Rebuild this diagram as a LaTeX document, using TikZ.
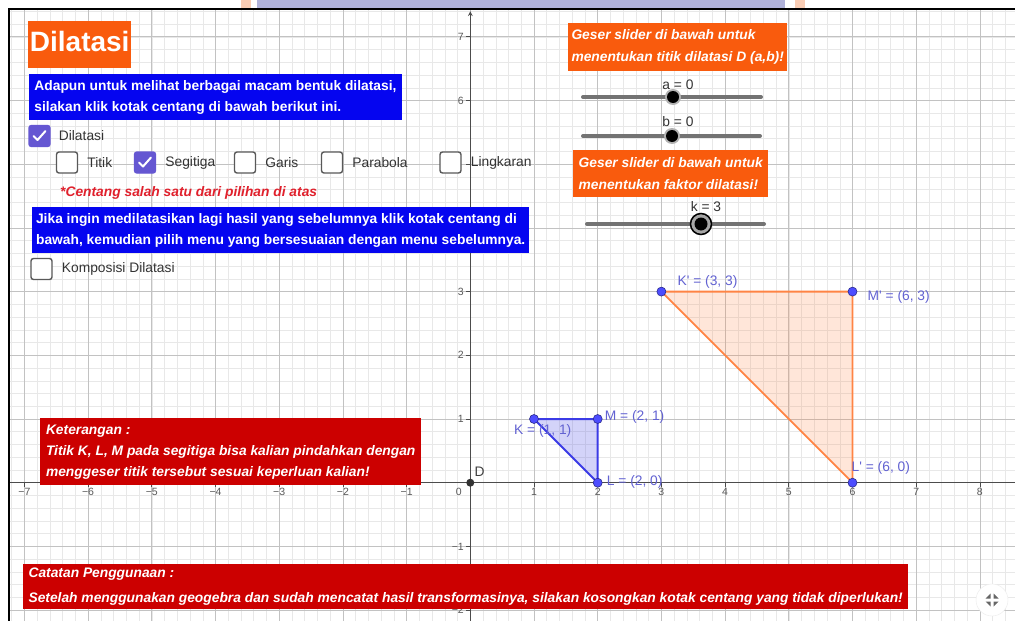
\documentclass[tikz,border=0pt]{standalone}
\usepackage{fontspec}
\setmainfont{Liberation Sans}
\usepackage{xcolor}
\usetikzlibrary{positioning, calc}

\definecolor{ggblue}{HTML}{0505F0}
\definecolor{ggred}{HTML}{CC0000}
\definecolor{ggorange}{HTML}{F95B0D}
\definecolor{ggpurple}{HTML}{6557D2}
\definecolor{ggnote}{HTML}{E0202C}
\definecolor{ggpoint}{HTML}{4D4DFF}
\definecolor{gglabel}{HTML}{6262D2}
\definecolor{ggtri}{HTML}{3B3BE6}
\definecolor{ggedge}{HTML}{FF8444}
\definecolor{lavender}{HTML}{B0B2DA}
\definecolor{peach}{HTML}{F9CDB5}

\def\fs{13.8}

\tikzset{
  panel/.style={anchor=north west, inner xsep=3pt, inner ysep=0pt, align=left, text=white,
    font=\fontsize{\fs}{21}\selectfont\bfseries},
  bluebox/.style={panel, fill=ggblue},
  redbox/.style={panel, fill=ggred, font=\fontsize{\fs}{21}\selectfont\bfseries\itshape},
  orangebox/.style={panel, fill=ggorange, font=\fontsize{\fs}{22}\selectfont\bfseries\itshape},
  cbox/.style={draw=black!65, line width=1.4pt, fill=white, rounded corners=2.5pt,
    minimum size=21pt, inner sep=0pt},
  cboxon/.style={cbox, draw=ggpurple, fill=ggpurple},
  cblabel/.style={inner sep=0pt, font=\fontsize{\fs}{16}\selectfont, text=black!80},
  tick/.style={inner sep=0pt, font=\fontsize{10.5}{13}\selectfont, text=black!65},
  minorgrid/.style={black!9, line width=0.5pt},
  majorgrid/.style={black!24, line width=0.8pt},
  axis/.style={black!70, line width=1.1pt},
  ptdot/.style={circle, fill=ggpoint, draw=ggpoint!55!black, line width=0.6pt,
    minimum size=9pt, inner sep=0pt},
  ptlabel/.style={inner sep=0pt, anchor=west, font=\fontsize{\fs}{16}\selectfont, text=gglabel},
  track/.style={black!55, line width=4pt, line cap=round},
  knob/.style={circle, fill=black, minimum size=12pt, inner sep=0pt},
  checkmark/.pic={\draw[white, line width=2pt, line cap=round, line join=round]
    (-6,0) -- (-2,4) -- (6,-5);}
}

\begin{document}
\begin{tikzpicture}[x=1pt, y=-1pt]
	\useasboundingbox (0,0) rectangle (1015,621);
	\fill[white] (0,0) rectangle (1015,621);
	\fill[lavender] (257,0) rectangle (785,9);
	\fill[peach] (241,0) rectangle (251,9);
	\fill[peach] (795,0) rectangle (805,9);
	
	\begin{scope}
		\clip (9,10) rectangle (1015,621);
		\begin{scope}[shift={(470.3,482.7)}, x=63.7pt, y=63.7pt]
			\foreach \i in {-37,...,43}
				\draw[minorgrid] (\i/5,-2.3) -- (\i/5,7.5);
			\foreach \i in {-11,...,37}
				\draw[minorgrid] (-7.4,\i/5) -- (8.7,\i/5);
			\foreach \i in {-7,...,8}
				\draw[majorgrid] (\i,-2.3) -- (\i,7.5);
			\foreach \i in {-2,...,7}
				\draw[majorgrid] (-7.4,\i) -- (8.7,\i);
			
			\draw[axis, -stealth] (-7.4,0) -- (8.7,0);
			\draw[axis, -stealth] (0,-2.3) -- (0,7.4);
			\foreach \i in {-7,...,8}
				\draw[axis, line width=0.8pt] (\i,0) -- (\i,-0.06);
			\foreach \i in {-2,...,7}
				\draw[axis, line width=0.8pt] (0,\i) -- (-0.06,\i);
			
			\foreach \i in {1,...,8}
				\node[tick, anchor=north] (xpos\i) at (\i,-0.08) {\i};
			\foreach \i in {1,...,7}
				\node[tick, anchor=north] (xneg\i) at (-\i,-0.08) {−\i};
			\foreach \i in {1,2,3,6,7}
				\node[tick, anchor=east] (ypos\i) at (-0.1,\i) {\i};
			\foreach \i in {1,2}
				\node[tick, anchor=east] (yneg\i) at (-0.1,-\i) {−\i};
			\node[tick, anchor=north east] (zero) at (-0.13,-0.08) {0};
			
			\coordinate (K) at (1,1);
			\coordinate (L) at (2,0);
			\coordinate (M) at (2,1);
			\coordinate (Kp) at (3,3);
			\coordinate (Lp) at (6,0);
			\coordinate (Mp) at (6,3);
			
			\filldraw[draw=ggtri, line width=2pt, fill=ggtri, fill opacity=0.22, line join=round]
				(K) -- (L) -- (M) -- cycle;
			\filldraw[draw=ggedge, line width=1.8pt, fill=ggedge, fill opacity=0.2, line join=round]
				(Kp) -- (Lp) -- (Mp) -- cycle;
			
			\foreach \p in {K,L,M,Kp,Lp,Mp}
				\node[ptdot] (dot\p) at (\p) {};
			\node[circle, fill=black!80, minimum size=8pt, inner sep=0pt] (D) at (0,0) {};
			
			\node[ptlabel, text=black!75] (Dlab) at ([shift={(4pt,11pt)}]D.center) {D};
			\node[ptlabel] (Klab) at ([shift={(-20pt,-12pt)}]K) {K = (1, 1)};
			\node[ptlabel] (Mlab) at ([shift={(7pt,2pt)}]M) {M = (2, 1)};
			\node[ptlabel] (Llab) at ([shift={(9pt,1pt)}]L) {L = (2, 0)};
			\node[ptlabel] (Kplab) at ([shift={(16pt,10pt)}]Kp) {K\textquotesingle{} = (3, 3)};
			\node[ptlabel] (Mplab) at ([shift={(15pt,-5pt)}]Mp) {M\textquotesingle{} = (6, 3)};
			\node[ptlabel] (Lplab) at ([shift={(-1pt,15pt)}]Lp) {L\textquotesingle{} = (6, 0)};
		\end{scope}
	\end{scope}
	
	\draw[black, line width=2pt] (9,621) -- (9,9) -- (1015,9);
	
	\node[panel, fill=ggorange, minimum width=103pt, minimum height=47pt, inner xsep=0pt,
		align=center, text depth=6pt, font=\fontsize{28}{30}\selectfont\bfseries] (title) at (28,21) {Dilatasi};
	
	\node[bluebox, minimum width=373.5pt, minimum height=46pt] (intro) at (28.5,74)
		{Adapun untuk melihat berbagai macam bentuk dilatasi,\\silakan klik kotak centang di bawah berikut ini.};
	
	\node[cboxon] (dilatasi) at (39.5,136) {};
	\pic at (dilatasi.center) {checkmark};
	\node[cblabel, right=8pt of dilatasi] (dilatasilab) {Dilatasi};
	
	\node[cbox] (titik) at (67,162.5) {};
	\node[cblabel, right=9pt of titik] (titiklab) {Titik};
	\node[cboxon] (segitiga) at (145,162.5) {};
	\pic at (segitiga.center) {checkmark};
	\node[cblabel, right=9pt of segitiga] (segitigalab) {Segitiga};
	\node[cbox] (garis) at (245,162.5) {};
	\node[cblabel, right=9pt of garis] (garislab) {Garis};
	\node[cbox] (parabola) at (332,162.5) {};
	\node[cblabel, right=9pt of parabola] (parabolalab) {Parabola};
	\node[cbox] (lingkaran) at (450.5,162.5) {};
	\node[cblabel, right=9pt of lingkaran] (lingkaranlab) {Lingkaran};
	
	\node[anchor=base west, inner sep=0pt, text=ggnote, font=\fontsize{\fs}{16}\selectfont\bfseries\itshape]
		(hint) at (60,196) {*Centang salah satu dari pilihan di atas};
	
	\node[bluebox, minimum width=497pt, minimum height=46pt] (lagi) at (32,207)
		{Jika ingin medilatasikan lagi hasil yang sebelumnya klik kotak centang di\\bawah, kemudian pilih menu yang bersesuaian dengan menu sebelumnya.};
	
	\node[cbox] (komposisi) at (41.5,269) {};
	\node[cblabel, right=9pt of komposisi] (komposisilab) {Komposisi Dilatasi};
	
	\node[orangebox, minimum width=219pt, minimum height=48pt] (gesertitik) at (568,23)
		{Geser slider di bawah untuk\\menentukan titik dilatasi D (a,b)!};
	
	\draw[track] (583,97) -- (761,97);
	\fill[black!30] (673,97) circle (8);
	\node[knob] (knoba) at (673,97) {};
	\node[cblabel] (sldra) at (678,85) {a = 0};
	
	\draw[track] (583,136) -- (760,136);
	\fill[black!30] (672,136) circle (8);
	\node[knob] (knobb) at (672,136) {};
	\node[cblabel] (sldrb) at (678,122) {b = 0};
	
	\node[orangebox, minimum width=195pt, minimum height=47pt] (geserfaktor) at (573,150)
		{Geser slider di bawah untuk\\menentukan faktor dilatasi!};
	
	\draw[track] (587,224) -- (764,224);
	\node[circle, draw=black, line width=1.5pt, fill=black!35, minimum size=21pt, inner sep=0pt] (ringk) at (701,224) {};
	\node[knob, minimum size=13pt] (knobk) at (701,224) {};
	\node[cblabel] (sldrk) at (706,207) {k = 3};
	
	\node[redbox, minimum width=381pt, minimum height=67pt] (keterangan) at (40,418)
		{Keterangan :\\Titik K, L, M pada segitiga bisa kalian pindahkan dengan\\menggeser titik tersebut sesuai keperluan kalian!};
	
	\node[redbox, minimum width=885pt, minimum height=45pt, font=\fontsize{\fs}{25}\selectfont\bfseries\itshape]
		(catatan) at (23,564)
		{Catatan Penggunaan :\\Setelah menggunakan geogebra dan sudah mencatat hasil transformasinya, silakan kosongkan kotak centang yang tidak diperlukan!};
	
	\node[circle, fill=white, draw=black!8, minimum size=32pt, inner sep=0pt] (fullscreen) at (992,600) {};
	\foreach \sx/\sy in {-1/-1,1/-1,-1/1,1/1}
		\fill[black!60] ($(fullscreen.center)+(\sx*1.5,\sy*1.5)$) -- ++(\sx*5,0) -- ++(-\sx*5,\sy*5) -- cycle;
\end{tikzpicture}
\end{document}
